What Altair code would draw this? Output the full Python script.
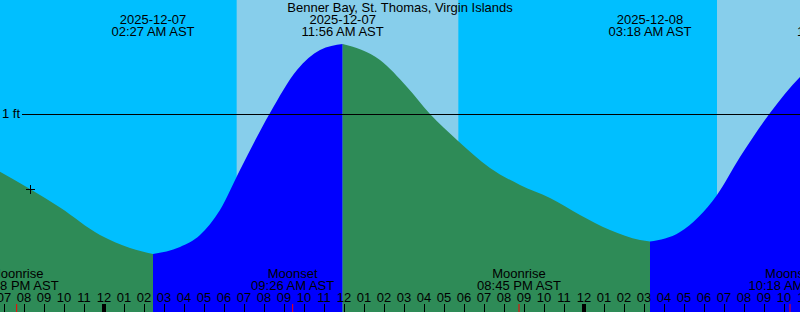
import altair as alt
import pandas as pd

TITLE = "Benner Bay, St. Thomas, Virgin Islands"

# Tide curve: hours after 2025-12-07 00:00 AST, height in feet
tide_hours = [-6.2, -5.2, -3.7, -2.2, -0.2, 1.3, 2.45, 3.8, 4.8, 5.8, 6.8, 8.3,
              9.65, 10.8, 11.933, 13.8, 15.15, 16.3, 17.65, 19.3, 20.8, 22.3,
              23.8, 25.3, 26.8, 27.3, 28.8, 30.65, 31.8, 33.3, 34.8, 35.8, 36.75]
tide_heights = [0.77, 0.7115, 0.625, 0.5325, 0.395, 0.33, 0.30, 0.335, 0.395,
                0.52, 0.72, 1.005, 1.22, 1.32, 1.35, 1.27, 1.135, 1.0, 0.87,
                0.73, 0.645, 0.58, 0.495, 0.42, 0.37, 0.3625, 0.41, 0.595,
                0.785, 1.005, 1.185, 1.27, 1.31]

# High / low tide events
extreme_hours = [2.45, 11.933, 27.3, 36.75]
extreme_kinds = ["low", "high", "low", "high"]
extreme_dates = ["2025-12-07", "2025-12-07", "2025-12-08", "2025-12-08"]
extreme_times = ["02:27 AM AST", "11:56 AM AST", "03:18 AM AST", "12:45 PM AST"]

# Daylight intervals (sunrise -> sunset)
day_start = [6.633, 30.65]
day_end = [17.717, 41.72]

# Moon events
moon_hours = [-4.367, 9.433, 20.75, 34.3]
moon_events = ["Moonrise", "Moonset", "Moonrise", "Moonset"]
moon_times = ["07:38 PM AST", "09:26 AM AST", "08:45 PM AST", "10:18 AM AST"]

# Hour ticks
tick_hours = list(range(-5, 36))
tick_labels = ["07", "08", "09", "10", "11",
               "12", "01", "02", "03", "04", "05", "06", "07", "08", "09", "10", "11",
               "12", "01", "02", "03", "04", "05", "06", "07", "08", "09", "10", "11",
               "12", "01", "02", "03", "04", "05", "06", "07", "08", "09", "10", "11"]
midnight_hours = [0, 24]

now_hour = -3.7
now_height = 0.625
datum_ft = 1.0
datum_label = "1 ft"

NIGHT = "#00BFFF"
DAY = "#87CEEB"
EBB = "#2E8B57"
FLOOD = "#0000FF"
FONT = "Liberation Sans"
FS = 13

# build tide segments (ebb / flood) split at extremes
rows = []
prev = -1e9
for i, (eh, kind) in enumerate(zip(extreme_hours, extreme_kinds)):
    phase = "ebb" if kind == "low" else "flood"
    for h, v in zip(tide_hours, tide_heights):
        if prev <= h <= eh:
            rows.append({"hour": h, "height": v, "seg": i, "phase": phase})
    prev = eh
tide_df = pd.DataFrame(rows)

xs = alt.Scale(domain=[-5.2, 34.8], nice=False, zero=False)
ys = alt.Scale(domain=[0.01, 1.57], nice=False, zero=False)

X = lambda f: alt.X(f, type="quantitative", scale=xs, axis=None)
Y = lambda f: alt.Y(f, type="quantitative", scale=ys, axis=None)

days = alt.Chart(pd.DataFrame({"s": day_start, "e": day_end})).mark_rect(
    color=DAY, clip=True
).encode(x=X("s"), x2="e", y=alt.value(0), y2=alt.value(312))

tide = alt.Chart(tide_df).mark_area(interpolate="monotone", clip=True).encode(
    x=X("hour"),
    y=alt.Y("height", type="quantitative", scale=ys, axis=None, stack=None),
    color=alt.Color("phase:N", scale=alt.Scale(domain=["ebb", "flood"], range=[EBB, FLOOD]), legend=None),
    detail="seg:N",
)

datum_rule = alt.Chart(pd.DataFrame({"v": [datum_ft]})).mark_rule(
    color="black", strokeWidth=1, yOffset=0.5
).encode(y=Y("v"), x=alt.value(22), x2=alt.value(800))

datum_text = alt.Chart(pd.DataFrame({"v": [datum_ft], "t": [datum_label]})).mark_text(
    font=FONT, fontSize=FS, align="left", baseline="alphabetic", dy=4, color="black"
).encode(y=Y("v"), x=alt.value(2), text="t")

title = alt.Chart(pd.DataFrame({"t": [TITLE]})).mark_text(
    font=FONT, fontSize=FS, align="center", baseline="alphabetic", color="black"
).encode(x=alt.value(400), y=alt.value(12), text="t")

ev_df = pd.DataFrame({"h": extreme_hours, "d": extreme_dates, "t": extreme_times})
ev_date = alt.Chart(ev_df).mark_text(
    font=FONT, fontSize=FS, align="center", baseline="alphabetic", color="black"
).encode(x=X("h"), y=alt.value(24), text="d")
ev_time = alt.Chart(ev_df).mark_text(
    font=FONT, fontSize=FS, align="center", baseline="alphabetic", color="black"
).encode(x=X("h"), y=alt.value(36), text="t")

moon_df = pd.DataFrame({"h": moon_hours, "e": moon_events, "t": moon_times})
moon_name = alt.Chart(moon_df).mark_text(
    font=FONT, fontSize=FS, align="center", baseline="alphabetic", color="black"
).encode(x=X("h"), y=alt.value(278), text="e")
moon_time = alt.Chart(moon_df).mark_text(
    font=FONT, fontSize=FS, align="center", baseline="alphabetic", color="black"
).encode(x=X("h"), y=alt.value(290), text="t")

tick_df = pd.DataFrame({"h": tick_hours, "l": tick_labels})
tick_text = alt.Chart(tick_df).mark_text(
    font=FONT, fontSize=FS, align="center", baseline="alphabetic", color="black"
).encode(x=X("h"), y=alt.value(302), text="l")
tick_rules = alt.Chart(tick_df).mark_rule(color="black", strokeWidth=1, xOffset=0.5).encode(
    x=X("h"), y=alt.value(304), y2=alt.value(312)
)
mid_rules = alt.Chart(pd.DataFrame({"h": midnight_hours})).mark_rule(
    color="black", strokeWidth=4
).encode(x=X("h"), y=alt.value(304), y2=alt.value(312))
moon_rules = alt.Chart(moon_df).mark_rule(color="#FF0000", strokeWidth=1).encode(
    x=X("h"), y=alt.value(304), y2=alt.value(312)
)

now_mark = alt.Chart(pd.DataFrame({"h": [now_hour], "v": [now_height]})).mark_point(
    shape="M-1,0L1,0M0,-1L0,1", size=81, filled=False, stroke="black",
    strokeWidth=1, opacity=1, xOffset=0.5, yOffset=0.5
).encode(x=X("h"), y=Y("v"))

chart = alt.layer(
    days, tide, datum_rule, datum_text, title, ev_date, ev_time,
    moon_name, moon_time, tick_text, tick_rules, mid_rules, moon_rules, now_mark
).properties(
    width=800, height=312, background=NIGHT, padding=0,
    autosize=alt.AutoSizeParams(type="none")
).configure_view(stroke=None, fill=NIGHT)

chart.save("out.html", embed_options={"renderer": "svg", "actions": False})
